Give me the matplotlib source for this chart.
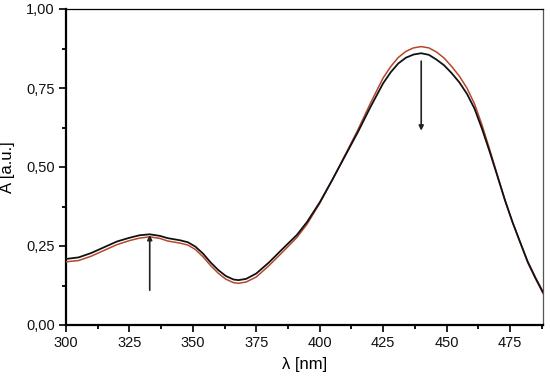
import matplotlib
matplotlib.use("Agg")
import matplotlib.pyplot as plt
from matplotlib.ticker import MultipleLocator, FuncFormatter

# ─── Data ─────────────────────────────────────────────────────────────────────
wl = [300, 305, 310, 315, 320, 325, 329, 333, 337, 340, 345, 348, 351, 354,
      357, 360, 363, 366, 368, 371, 375, 380, 385, 391, 395, 400, 405, 410,
      415, 420, 425, 428, 431, 434, 437, 440, 443, 446, 449, 452, 455, 458,
      461, 464, 467, 470, 473, 476, 479, 482, 485, 488]
a_black = [0.209, 0.214, 0.228, 0.246, 0.264, 0.276, 0.284, 0.287, 0.282, 0.275,
           0.268, 0.262, 0.248, 0.226, 0.198, 0.174, 0.155, 0.144, 0.142, 0.146,
           0.163, 0.198, 0.238, 0.285, 0.326, 0.388, 0.460, 0.535, 0.610, 0.690,
           0.765, 0.800, 0.828, 0.846, 0.856, 0.860, 0.855, 0.840, 0.822, 0.797,
           0.768, 0.732, 0.685, 0.620, 0.548, 0.472, 0.395, 0.325, 0.262, 0.200,
           0.150, 0.104]
a_red = [0.200, 0.204, 0.218, 0.236, 0.254, 0.267, 0.275, 0.279, 0.274, 0.266,
         0.259, 0.253, 0.239, 0.216, 0.188, 0.164, 0.145, 0.134, 0.132, 0.136,
         0.152, 0.188, 0.228, 0.277, 0.319, 0.385, 0.460, 0.538, 0.617, 0.702,
         0.782, 0.818, 0.847, 0.866, 0.877, 0.881, 0.877, 0.864, 0.845, 0.818,
         0.788, 0.750, 0.700, 0.632, 0.555, 0.475, 0.396, 0.325, 0.261, 0.197,
         0.147, 0.100]

arrow_up = (333, 0.11, 0.285)     # x, start, end
arrow_down = (440, 0.835, 0.615)

BLACK = "#111111"
RED = "#B5472C"

plt.rcParams["font.family"] = ["Liberation Sans", "DejaVu Sans"]

fig = plt.figure(figsize=(5.5, 3.77), dpi=100)
ax = fig.add_axes([66 / 550, 1 - 325 / 377, (543 - 66) / 550, (325 - 9) / 377])

ax.plot(wl, a_red, color=RED, linewidth=1.1, zorder=3)
ax.plot(wl, a_black, color=BLACK, linewidth=1.3, zorder=4)

for x, y0, y1 in (arrow_up, arrow_down):
    ax.annotate("", xy=(x, y1), xytext=(x, y0),
                arrowprops=dict(arrowstyle="-|>", color="#222222", lw=1.2,
                                mutation_scale=7, shrinkA=0, shrinkB=0))

ax.set_xlim(300, 488)
ax.set_ylim(0, 1.0)
ax.xaxis.set_major_locator(MultipleLocator(25))
ax.xaxis.set_minor_locator(MultipleLocator(12.5))
ax.yaxis.set_major_locator(MultipleLocator(0.25))
ax.yaxis.set_minor_locator(MultipleLocator(0.125))
ax.yaxis.set_major_formatter(FuncFormatter(lambda v, p: f"{v:.2f}".replace(".", ",")))

ax.tick_params(which="major", direction="out", length=5, width=1.3, labelsize=10.5,
               colors="#111111", pad=3)
ax.tick_params(which="minor", direction="out", length=3, width=1.3)

for side in ("left", "bottom"):
    ax.spines[side].set_linewidth(1.6)
ax.spines["top"].set_linewidth(0.9)
ax.spines["right"].set_linewidth(0.9)
ax.spines["right"].set_color("#555555")

ax.set_xlabel("λ [nm]", fontsize=12, labelpad=5)
ax.set_ylabel("A [a.u.]", fontsize=12, labelpad=8)

fig.savefig("out.png", dpi=100)
